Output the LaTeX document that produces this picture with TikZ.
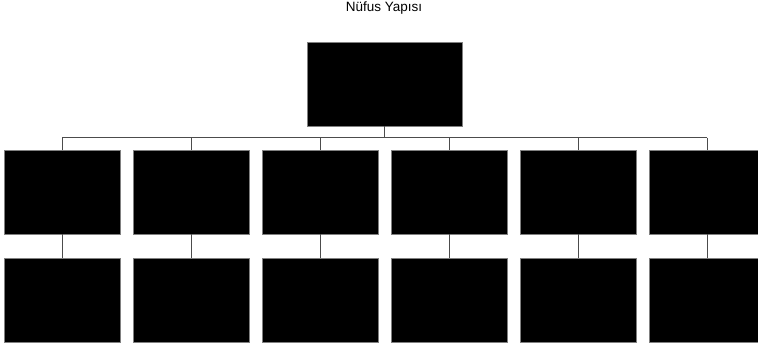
\documentclass[tikz,border=0pt]{standalone}
\usepackage{fontspec}
\setmainfont{Liberation Sans}
\begin{document}
\begin{tikzpicture}[x=1pt,y=-1pt,
  blk/.style={draw=black!50,fill=black,line width=1pt,minimum width=116pt,minimum height=84pt,inner sep=0pt,outer sep=0pt},
  conn/.style={draw=black!70,line width=1pt}]
\path[use as bounding box] (0,0) rectangle (758,346);
\begin{scope}
\clip (0,0) rectangle (758,346);
\node[font=\fontsize{13.5}{15}\selectfont] (title) at (384,8) {Nüfus Yapısı};
\node[blk,minimum width=155pt] (top) at (384.5,84) {};
\coordinate (bus) at (384.5,137.5);
\foreach \i/\x in {1/62,2/191,3/320,4/449,5/578,6/707}{
  \node[blk] (a\i) at (\x,192) {};
  \node[blk] (b\i) at (\x,300) {};
  \coordinate (t\i) at (\x,137.5);
  \draw[conn] (t\i) -- (a\i.north);
  \draw[conn] (a\i.south) -- (b\i.north);
}
\draw[conn] (t1) -- (t6);
\draw[conn] (top.south) -- (bus);
\end{scope}
\end{tikzpicture}
\end{document}
